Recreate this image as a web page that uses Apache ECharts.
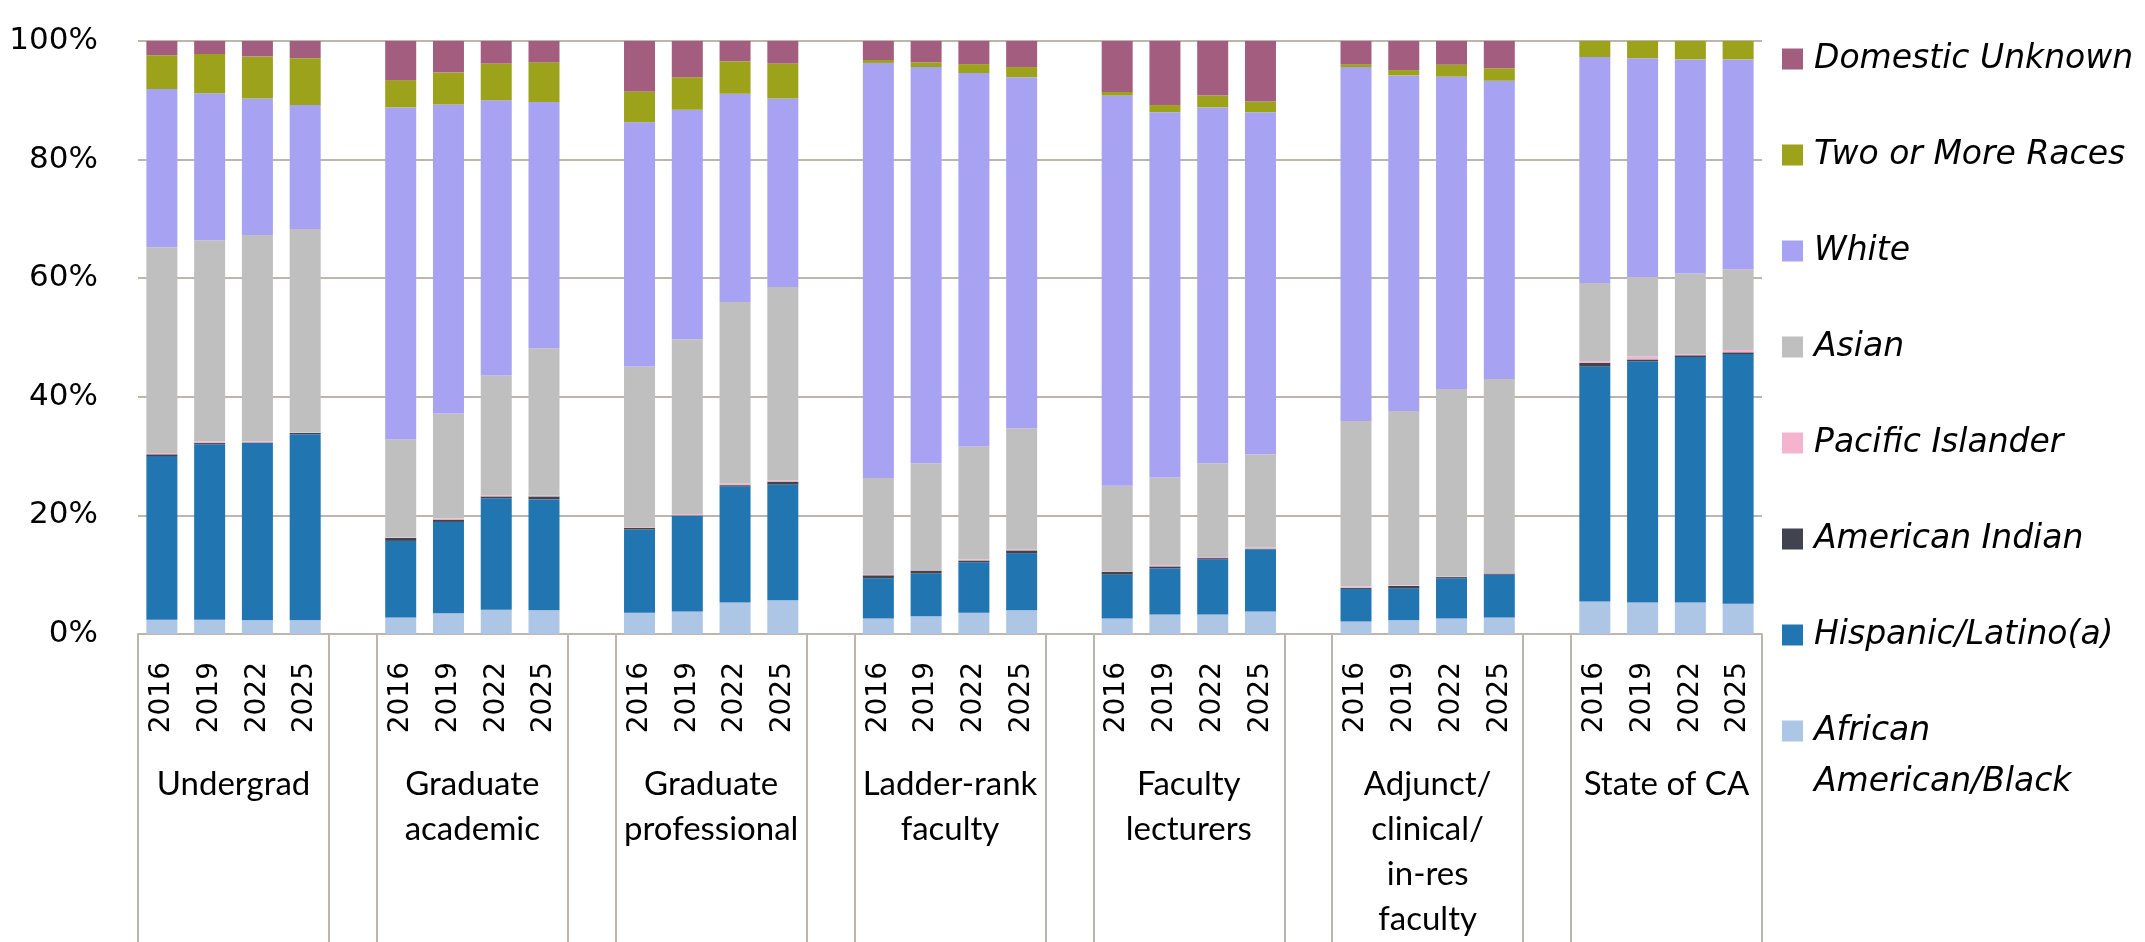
<!DOCTYPE html>
<html>
<head>
<meta charset="utf-8">
<script src="https://cdn.jsdelivr.net/npm/echarts@6/dist/echarts.min.js"></script>
<style>
  html, body { margin: 0; padding: 0; background: #fff; }
  #chart { width: 2145px; height: 942px; }
</style>
</head>
<body>
<div id="chart"></div>
<script>
// years inside each group, and the groups along the bottom
const years = ['2016', '2019', '2022', '2025'];
const groups = ['Undergrad', 'Graduate\nacademic', 'Graduate\nprofessional', 'Ladder-rank\nfaculty',
  'Faculty\nlecturers', 'Adjunct/\nclinical/\nin-res\nfaculty', 'State of CA'];
const yTicks = [0, 20, 40, 60, 80, 100];

// shares in %, 4 years per group, groups in the order above
const african  = [2.4, 2.4, 2.3, 2.3,  2.8, 3.5, 4.1, 4.0,  3.6, 3.8, 5.3, 5.7,  2.6, 3.0, 3.6, 4.0,  2.6, 3.3, 3.3, 3.8,  2.1, 2.3, 2.6, 2.8,  5.5, 5.3, 5.3, 5.1];
const hispanic = [27.6, 29.6, 29.9, 31.4,  12.9, 15.4, 18.8, 18.7,  14.0, 16.1, 19.6, 19.5,  6.8, 7.2, 8.5, 9.6,  7.4, 7.8, 9.3, 10.5,  5.5, 5.4, 6.8, 7.2,  39.6, 40.7, 41.4, 42.1];
const amIndian = [0.3, 0.2, 0.1, 0.2,  0.5, 0.4, 0.3, 0.5,  0.3, 0.1, 0.2, 0.5,  0.5, 0.5, 0.3, 0.5,  0.5, 0.3, 0.2, 0.1,  0.2, 0.4, 0.2, 0.2,  0.6, 0.3, 0.3, 0.3];
const pacific  = [0.2, 0.3, 0.2, 0.1,  0.1, 0.2, 0.2, 0.1,  0.1, 0.2, 0.3, 0.2,  0.1, 0.1, 0.2, 0.2,  0.1, 0.2, 0.2, 0.2,  0.2, 0.1, 0.1, 0.1,  0.3, 0.5, 0.2, 0.4];
const asian    = [34.7, 33.9, 34.8, 34.3,  16.5, 17.7, 20.2, 24.9,  27.1, 29.5, 30.6, 32.6,  16.3, 18.0, 19.0, 20.4,  14.4, 14.8, 15.8, 15.7,  27.9, 29.4, 31.6, 32.7,  13.2, 13.4, 13.6, 13.6];
const white    = [26.7, 24.8, 23.0, 20.9,  56.0, 52.1, 46.4, 41.5,  41.2, 38.7, 35.1, 31.8,  70.0, 66.8, 63.0, 59.2,  65.8, 61.6, 60.0, 57.7,  59.7, 56.6, 52.7, 50.3,  38.1, 36.9, 36.1, 35.4];
const twoPlus  = [5.7, 6.6, 7.1, 7.9,  4.6, 5.4, 6.2, 6.7,  5.2, 5.5, 5.5, 5.9,  0.5, 0.8, 1.5, 1.7,  0.6, 1.2, 2.0, 1.8,  0.5, 0.9, 2.0, 2.1,  2.7, 2.9, 3.1, 3.1];
const unknown  = [2.4, 2.2, 2.6, 2.9,  6.6, 5.3, 3.8, 3.6,  8.5, 6.1, 3.4, 3.8,  3.3, 3.6, 3.9, 4.4,  8.7, 10.8, 9.2, 10.2,  3.9, 4.9, 4.0, 4.6,  0, 0, 0, 0];

const seriesDefs = [
  { name: 'African American/Black', data: african, color: '#ADC6E6' },
  { name: 'Hispanic/Latino(a)', data: hispanic, color: '#2176B2' },
  { name: 'American Indian', data: amIndian, color: '#41434F' },
  { name: 'Pacific Islander', data: pacific, color: '#F4B4D0' },
  { name: 'Asian', data: asian, color: '#BFBFBF' },
  { name: 'White', data: white, color: '#A7A2F2' },
  { name: 'Two or More Races', data: twoPlus, color: '#9CA21A' },
  { name: 'Domestic Unknown', data: unknown, color: '#A35D7F' }
];

// one empty slot between groups
const slots = [];
groups.forEach((g, gi) => {
  years.forEach(y => slots.push(y));
  if (gi < groups.length - 1) slots.push('');
});
function spread(values) {
  const out = [];
  groups.forEach((g, gi) => {
    for (let i = 0; i < years.length; i++) out.push(values[gi * years.length + i]);
    if (gi < groups.length - 1) out.push('-');
  });
  return out;
}
// boundary points for the group axis (slots + 1)
const groupPoints = [];
for (let i = 0; i <= slots.length; i++) groupPoints.push('');
groups.forEach((g, gi) => { groupPoints[gi * 5 + 2] = g; });

const lineColor = '#BDB6AD';
const legendFont = { fontFamily: 'DejaVu Sans', fontStyle: 'italic', fontSize: 33, color: '#000' };
const chart = echarts.init(document.getElementById('chart'));

chart.setOption({
  animation: false,
  grid: { left: 138, right: 383, top: 41, bottom: 308 },
  legend: {
    orient: 'vertical',
    left: 1782,
    top: 39,
    padding: 0,
    icon: 'rect',
    itemWidth: 21,
    itemHeight: 21,
    itemGap: 56,
    selectedMode: false,
    textStyle: Object.assign({ lineHeight: 40, padding: [0, 0, 0, 6] }, legendFont),
    formatter: name => name === 'African American/Black' ? '{a|African}\n{b|American/Black}' : name,
    // two-line entry: box only one line high so the first line sits level with the marker
    data: seriesDefs.slice().reverse().map(s => s.name === 'African American/Black'
      ? { name: s.name, textStyle: { height: 40, rich: {
          a: Object.assign({ lineHeight: 40 }, legendFont),
          b: Object.assign({ lineHeight: 62 }, legendFont) } } }
      : { name: s.name })
  },
  xAxis: [{
    type: 'category',
    data: slots,
    position: 'bottom',
    axisLine: { lineStyle: { color: lineColor, width: 2 } },
    axisTick: { show: false },
    axisLabel: {
      interval: 0,
      rotate: 90,
      margin: 28,
      fontFamily: 'DejaVu Sans',
      fontSize: 28,
      color: '#000'
    }
  }, {
    type: 'category',
    data: groupPoints,
    position: 'bottom',
    boundaryGap: false,
    axisLine: { show: false },
    axisTick: {
      show: true,
      interval: idx => idx % 5 === 0 || idx % 5 === 4,
      length: 320,
      lineStyle: { color: lineColor, width: 2 }
    },
    axisLabel: {
      interval: 0,
      margin: 128,
      fontFamily: 'Lato',
      fontSize: 33,
      lineHeight: 45,
      color: '#000'
    }
  }],
  yAxis: {
    type: 'value',
    min: yTicks[0],
    max: yTicks[yTicks.length - 1],
    interval: 20,
    axisLine: { show: false },
    axisTick: { show: false },
    axisLabel: {
      formatter: '{value}%',
      margin: 40,
      fontFamily: 'DejaVu Sans',
      fontSize: 31,
      color: '#000'
    },
    splitLine: { lineStyle: { color: lineColor, width: 2 } }
  },
  series: seriesDefs.map(s => ({
    name: s.name,
    type: 'bar',
    stack: 'total',
    xAxisIndex: 0,
    barWidth: 31,
    itemStyle: { color: s.color },
    data: spread(s.data)
  }))
});
</script>
</body>
</html>
